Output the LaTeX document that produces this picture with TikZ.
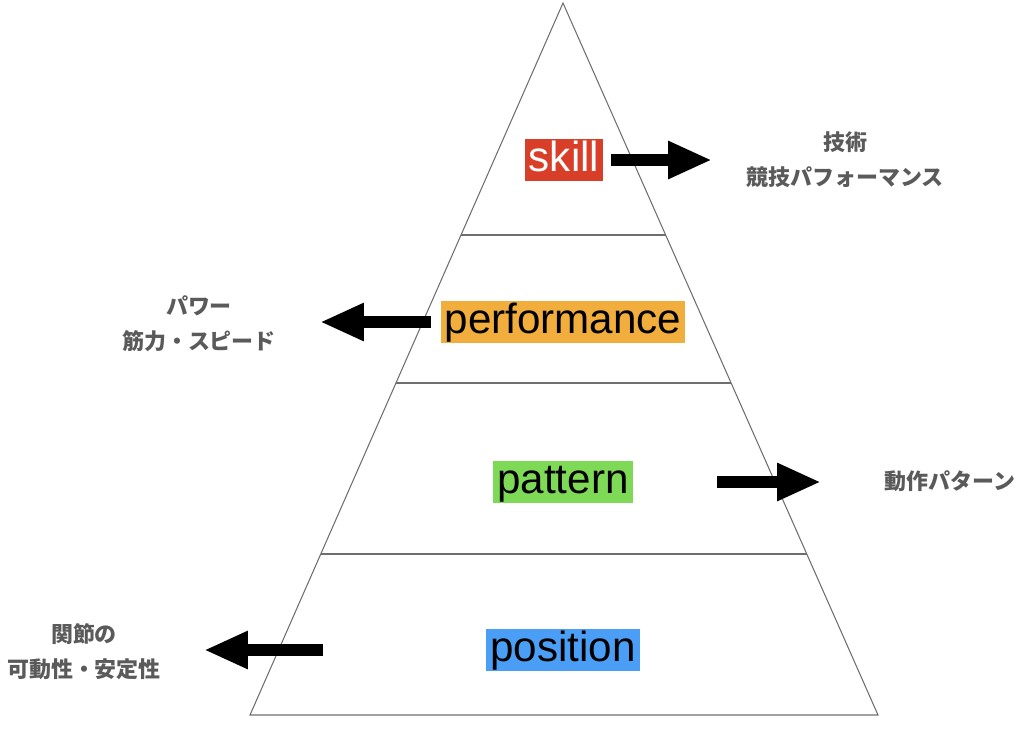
\documentclass[tikz,border=0pt]{standalone}
\usepackage{fontspec}
\setmainfont{Liberation Sans}
\newfontfamily\jpfont{Noto Sans CJK JP}
\usetikzlibrary{arrows.meta}
\usetikzlibrary{calc}

\definecolor{skillred}{RGB}{217,62,40}
\definecolor{perforange}{RGB}{241,174,60}
\definecolor{pattgreen}{RGB}{126,217,87}
\definecolor{posblue}{RGB}{74,158,245}
\definecolor{notegray}{RGB}{90,90,90}
\definecolor{edgegray}{RGB}{110,110,110}

\tikzset{
  level/.style={inner xsep=2.3pt,inner ysep=0pt,text height=18.3pt,text depth=5.6pt,
    font=\fontsize{24}{28}\selectfont},
  note/.style={text=notegray,align=center,font=\jpfont\bfseries\fontsize{12.5}{19.9}\selectfont},
  bigarrow/.style={line width=6.3pt,-{Triangle[length=25pt,width=20pt]}},
}

\begin{document}
\begin{tikzpicture}[x=0.02cm,y=-0.02cm]
        \useasboundingbox (0,0) rectangle (1024,728);
        % pyramid
        \coordinate (top) at (563,3);
        \coordinate (bl) at (250,715);
        \coordinate (br) at (878,715);
        \draw[edgegray,line width=0.6pt] (top)--(br)--(bl)--cycle;
        \foreach \y in {235,383,554}
            \draw[edgegray,line width=0.6pt] ($(top)!{(\y-3)/712}!(bl)$)--($(top)!{(\y-3)/712}!(br)$);
        % levels
        \node[level,fill=skillred,text=white] (skill) at (564,160) {skill};
        \node[level,fill=perforange] (perf) at (563,322) {performance};
        \node[level,fill=pattgreen] (patt) at (563,482) {pattern};
        \node[level,fill=posblue] (pos) at (563,650) {position};
        % notes
        \node[note] (skillnote) at (845,160) {技術\\競技パフォーマンス};
        \node[note] (perfnote) at (199,324) {パワー\\筋力・スピード};
        \node[note] (pattnote) at (950,481) {動作パターン};
        \node[note] (posnote) at (84,652) {関節の\\可動性・安定性};
        % arrows
        \coordinate (skillto) at (712,160);
        \coordinate (perfto) at (320,322);
        \coordinate (pattfrom) at (717,482);
        \coordinate (pattto) at (821,482);
        \coordinate (posfrom) at (323,650);
        \coordinate (posto) at (204,650);
        \draw[bigarrow] ([xshift=4.5pt]skill.east)--(skillto);
        \draw[bigarrow] ([xshift=-5.5pt]perf.west)--(perfto);
        \draw[bigarrow] (pattfrom)--(pattto);
        \draw[bigarrow] (posfrom)--(posto);
    \end{tikzpicture}
\end{document}
